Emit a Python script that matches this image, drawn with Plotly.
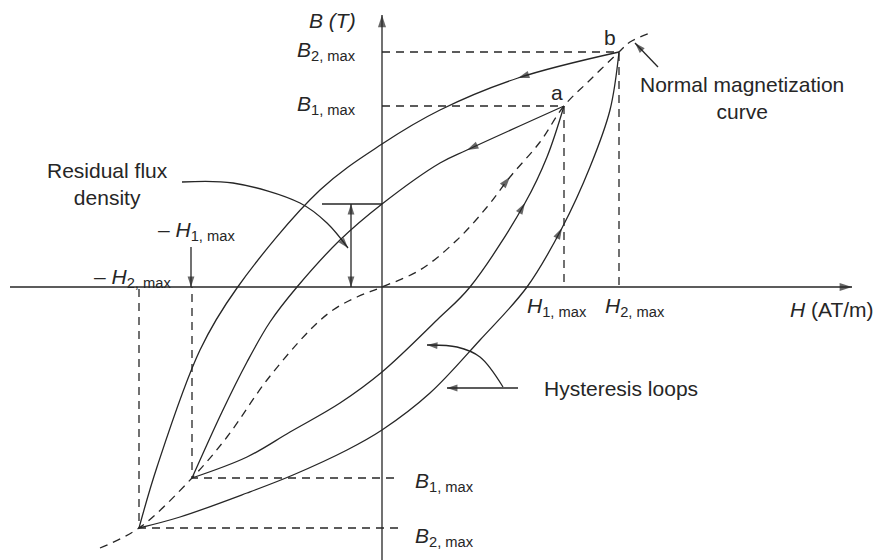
import plotly.graph_objects as go

# 磁滯迴線示意圖 — 各曲線取樣點 (H, B)，原點為 0，單位為圖面單位
NORMAL_H = [-282, -243, -190, -155, -115, -72, -49, -25, 0, 38, 75, 105, 128, 158, 182, 208, 237, 248, 271]
NORMAL_B = [-261, -241, -191, -150, -93, -43, -23, -10, 0, 17, 47, 80, 110, 145, 181, 207, 235, 245, 255]

OUTER_DOWN_H = [237, 136, 58, 0, -62, -145, -182, -225, -243]
OUTER_DOWN_B = [235, 209, 177, 143, 97, -1, -63, -180, -241]

INNER_DOWN_H = [182, 85, 58, 0, -42, -85, -112, -135, -160, -190]
INNER_DOWN_B = [181, 137, 124, 83, 47, 0, -35, -75, -125, -191]

INNER_UP_H = [-190, -135, -92, -42, 0, 55, 88, 143, 165, 182]
INNER_UP_B = [-191, -170, -145, -116, -85, -33, 0, 84, 130, 181]

OUTER_UP_H = [-243, -202, -135, -89, -35, 0, 48, 98, 145, 180, 208, 228, 237]
OUTER_UP_B = [-241, -230, -206, -188, -163, -143, -106, -53, 0, 59, 120, 177, 235]

# 迴線頂點
H1_MAX, B1_MAX = 182, 181
H2_MAX, B2_MAX = 237, 235
H1_NEG, B1_NEG = -190, -191
H2_NEG, B2_NEG = -243, -241
B_RESIDUAL = 83

INK = "#262626"
FONT = "Liberation Sans, Arial, sans-serif"
LW = 1.3

fig = go.Figure()


def add_line(xs, ys, dash="solid", spline=False):
    fig.add_trace(go.Scatter(
        x=xs, y=ys, mode="lines",
        line=dict(color=INK, width=LW, dash=dash, shape="spline" if spline else "linear"),
        hoverinfo="skip", showlegend=False))


def add_head(x0, y0, x1, y1, size=11):
    # 箭頭尖端在 (x1, y1)，方向由 (x0, y0) 指向它
    fig.add_trace(go.Scatter(
        x=[x0, x1], y=[y0, y1], mode="markers",
        marker=dict(symbol="arrow", angleref="previous", size=[0, size], color=INK,
                    line=dict(width=0)),
        hoverinfo="skip", showlegend=False))


def curve_head(hs, bs, i, size=12):
    dx = hs[i + 1] - hs[i - 1]
    dy = bs[i + 1] - bs[i - 1]
    add_head(hs[i] - 0.05 * dx, bs[i] - 0.05 * dy, hs[i], bs[i], size)


# 座標軸
add_line([-372, 470], [0, 0])
add_head(-372, 0, 470, 0, 13)
add_line([0, 0], [-273, 272])
add_head(0, -273, 0, 272, 13)

# 虛線輔助線
add_line([0, H2_MAX, H2_MAX], [B2_MAX, B2_MAX, 0], dash="8px,6px")
add_line([0, H1_MAX, H1_MAX], [B1_MAX, B1_MAX, 0], dash="8px,6px")
add_line([12, H1_NEG, H1_NEG], [B1_NEG, B1_NEG, 0], dash="8px,6px")
add_line([16, H2_NEG, H2_NEG], [B2_NEG, B2_NEG, 0], dash="8px,6px")

# 正常磁化曲線與磁滯迴線
add_line(NORMAL_H, NORMAL_B, dash="8px,6px", spline=True)
for hs, bs in [(OUTER_DOWN_H, OUTER_DOWN_B), (INNER_DOWN_H, INNER_DOWN_B),
               (INNER_UP_H, INNER_UP_B), (OUTER_UP_H, OUTER_UP_B)]:
    add_line(hs, bs, spline=True)

curve_head(OUTER_DOWN_H, OUTER_DOWN_B, 1)
curve_head(INNER_DOWN_H, INNER_DOWN_B, 1)
curve_head(NORMAL_H, NORMAL_B, 12)
curve_head(INNER_UP_H, INNER_UP_B, 7)
curve_head(OUTER_UP_H, OUTER_UP_B, 9)

# 剩磁標示
add_line([-60, 0], [B_RESIDUAL, B_RESIDUAL])
add_line([-31, -31], [0, B_RESIDUAL])
add_head(-31, 40, -31, B_RESIDUAL, 11)
add_head(-31, 40, -31, 0, 11)
res_x = [-200, -149, -82, -55, -34]
res_y = [105, 104, 84, 64, 39]
add_line(res_x, res_y, spline=True)
add_head(res_x[-2], res_y[-2], res_x[-1], res_y[-1], 11)

# -H1,max 指示
add_line([-191, -191], [40, 0])
add_head(-191, 40, -191, 0, 11)

# 正常磁化曲線指示
add_line([276, 253], [220, 244])
add_head(276, 220, 253, 244, 11)

# 磁滯迴線指示
add_line([136, 65], [-101, -101])
add_head(136, -101, 65, -101, 11)
hy_x = [121, 98, 75, 45]
hy_y = [-100, -70, -60, -58]
add_line(hy_x, hy_y, spline=True)
add_head(hy_x[-2], hy_y[-2], hy_x[-1], hy_y[-1], 11)


def label(x, y, text, xanchor="center", yanchor="middle"):
    fig.add_annotation(x=x, y=y, text=text, showarrow=False, xanchor=xanchor, yanchor=yanchor,
                       font=dict(family=FONT, size=21, color=INK))


label(-24, 267, "<i>B (T)</i>", xanchor="right")
label(-24, 236, "<i>B</i><sub>2, max</sub>", xanchor="right")
label(-24, 182, "<i>B</i><sub>1, max</sub>", xanchor="right")
label(31, -195, "<i>B</i><sub>1, max</sub>", xanchor="left")
label(31, -250, "<i>B</i><sub>2, max</sub>", xanchor="left")
label(-275, 103, "Residual flux<br>density")
label(-186, 56, "– <i>H</i><sub>1, max</sub>")
label(-250, 9, "– <i>H</i><sub>2, max</sub>")
label(143, -20, "<i>H</i><sub>1, max</sub>", xanchor="left")
label(221, -20, "<i>H</i><sub>2, max</sub>", xanchor="left")
label(406, -22, "<i>H</i> (AT/m)", xanchor="left")
label(175, 195, "a")
label(228, 250, "b")
label(360, 189, "Normal magnetization<br>curve")
label(160, -101, "Hysteresis loops", xanchor="left")

fig.update_xaxes(visible=False, range=[-382, 492], fixedrange=True)
fig.update_yaxes(visible=False, range=[-273, 287], fixedrange=True)
fig.update_layout(
    width=874, height=560, autosize=False,
    margin=dict(l=0, r=0, t=0, b=0),
    paper_bgcolor="white", plot_bgcolor="white",
    showlegend=False,
)

fig.write_html("out.html", config={"displayModeBar": False},
               post_script="document.body.style.margin = '0px';")
